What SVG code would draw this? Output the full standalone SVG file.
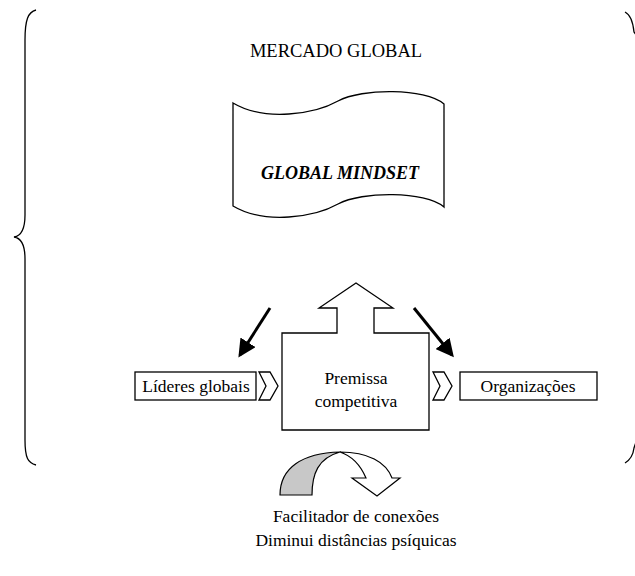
<svg xmlns="http://www.w3.org/2000/svg" width="635" height="576" viewBox="0 0 635 576">
<style>
  .ln{fill:none;stroke:#000;stroke-width:1.3}
  .shape{fill:#fff;stroke:#000;stroke-width:1.3}
  .t{font-family:'Liberation Serif','Times New Roman',serif;font-size:17.5px;fill:#000}
  .big{stroke:#000;stroke-width:3;fill:none}
</style>
<defs>
  <marker id="ah" markerWidth="6" markerHeight="6" refX="5" refY="3" orient="auto" markerUnits="strokeWidth">
    <path d="M0,0 L6,3 L0,6 Z" fill="#000"/>
  </marker>
</defs>
<g id="brace-left">
  <path class="ln" d="M36,10 C28,12 25,20 25,40 L25,215 C25,230 21,236 14,237 C21,238 25,244 25,259 L25,440 C25,458 28,463 36,465"/>
</g>
<g id="brace-right">
  <path class="ln" d="M625,12 C631,15 633,22 634,32 L640,40"/>
  <path class="ln" d="M640,430 L634,448 C633,456 630,460 625,463"/>
</g>
<g id="mercado">
  <text class="t" x="336" y="57" text-anchor="middle" font-family="Liberation Serif, serif" style="font-size:18.5px">MERCADO GLOBAL</text>
</g>
<g id="mindset">
  <path class="shape" d="M233,103 C265,122 315,114 338,101 C362,88 425,88 444,104 L444,207 C425,191 362,191 338,204 C315,217 265,225 233,206 Z"/>
  <text x="340" y="179" text-anchor="middle" font-family="Liberation Serif, serif" font-size="18" font-weight="bold" font-style="italic">GLOBAL MINDSET</text>
</g>
<g id="connectors">
  <line class="big" x1="270" y1="308" x2="240" y2="355" marker-end="url(#ah)"/>
  <line class="big" x1="414" y1="308" x2="452" y2="355" marker-end="url(#ah)"/>
</g>
<g id="lideres">
  <rect class="shape" x="135" y="372" width="121" height="28"/>
  <text class="t" x="196" y="392" text-anchor="middle" font-family="Liberation Serif, serif">Líderes globais</text>
  <path class="shape" d="M259,372 L270,372 L278,386 L270,400 L259,400 L266,386 Z"/>
</g>
<g id="premissa">
  <path class="shape" d="M282,333 L337,333 L337,308 L319,308 L356,283 L393,308 L374,308 L374,333 L429,333 L429,430 L282,430 Z"/>
  <text class="t" x="356" y="384" text-anchor="middle" font-family="Liberation Serif, serif">Premissa</text>
  <text class="t" x="356" y="407" text-anchor="middle" font-family="Liberation Serif, serif">competitiva</text>
</g>
<g id="organizacoes">
  <path class="shape" d="M433,372 L444,372 L452,386 L444,400 L433,400 L440,386 Z"/>
  <rect class="shape" x="460" y="372" width="137" height="28"/>
  <text class="t" x="528" y="392" text-anchor="middle" font-family="Liberation Serif, serif">Organizações</text>
</g>
<g id="facilitador">
  <path d="M280,495 C280,468 302,453 340,452 C318,458 312,474 312,495 Z" fill="#c8c8c8" stroke="#000" stroke-width="1.2"/>
  <path d="M340,452 C368,452 386,462 392,478 L400,478 L377,496 L352,478 L366,478 C360,464 352,456 340,452 Z" fill="#fff" stroke="#000" stroke-width="1.2"/>
  <text class="t" x="356" y="522" text-anchor="middle" font-family="Liberation Serif, serif">Facilitador de conexões</text>
  <text class="t" x="356" y="546" text-anchor="middle" font-family="Liberation Serif, serif">Diminui distâncias psíquicas</text>
</g>
</svg>
